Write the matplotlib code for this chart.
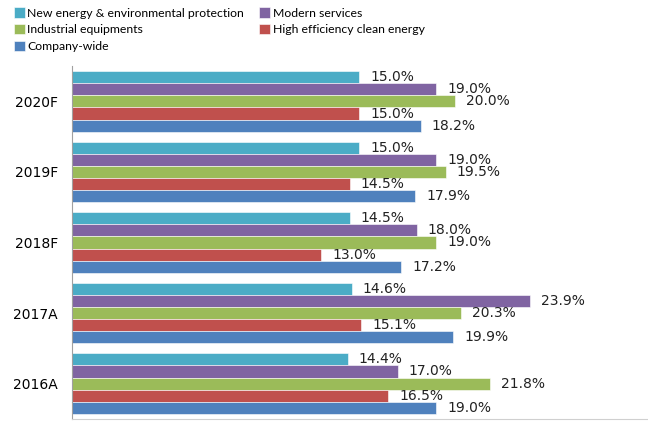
import numpy as np
import matplotlib.pyplot as plt

# categories bottom to top
years = ['2016A', '2017A', '2018F', '2019F', '2020F']

new_energy = [14.4, 14.6, 14.5, 15.0, 15.0]
modern_services = [17.0, 23.9, 18.0, 19.0, 19.0]
industrial = [21.8, 20.3, 19.0, 19.5, 20.0]
clean_energy = [16.5, 15.1, 13.0, 14.5, 15.0]
company_wide = [19.0, 19.9, 17.2, 17.9, 18.2]

series = [
    ('New energy & environmental protection', new_energy, '#4BACC6'),
    ('Modern services', modern_services, '#8064A2'),
    ('Industrial equipments', industrial, '#9BBB59'),
    ('High efficiency clean energy', clean_energy, '#C0504D'),
    ('Company-wide', company_wide, '#4F81BD'),
]

fig = plt.figure(figsize=(6.48, 4.21), dpi=100)
ax = fig.add_axes([0.111, 0.005, 0.887, 0.838])

y = np.arange(len(years))
w = 0.172
handles = []
for k, (name, vals, color) in enumerate(series):
    pos = y + (2 - k) * w
    b = ax.barh(pos, vals, height=w, color=color, edgecolor='white', linewidth=0.4, label=name)
    handles.append(b)
    for p, v in zip(pos, vals):
        ax.annotate(f'{v:.1f}%', (v, p), xytext=(8, 0), textcoords='offset points',
                    va='center', ha='left', fontsize=10, color='#222222')

ax.set_xlim(0, 30)
ax.set_ylim(-0.5, 4.5)
ax.set_yticks(y)
ax.set_yticklabels(years, fontsize=10)
ax.tick_params(axis='y', length=0, pad=10)
ax.set_xticks([])
for s in ['top', 'right']:
    ax.spines[s].set_visible(False)
ax.spines['left'].set_color('#A0A0A0')
ax.spines['bottom'].set_color('#D0D0D0')

# Excel fills the legend row by row
order = [0, 2, 4, 1, 3]
fig.legend([handles[i] for i in order], [series[i][0] for i in order],
           loc='upper left', bbox_to_anchor=(0.014, 0.994), ncol=2, frameon=False,
           prop={'family': 'Lato', 'size': 8.8}, handlelength=0.9, handleheight=0.9,
           handletextpad=0.2, columnspacing=1.25, labelspacing=0.45, borderaxespad=0)

plt.savefig('out.png', dpi=100)
